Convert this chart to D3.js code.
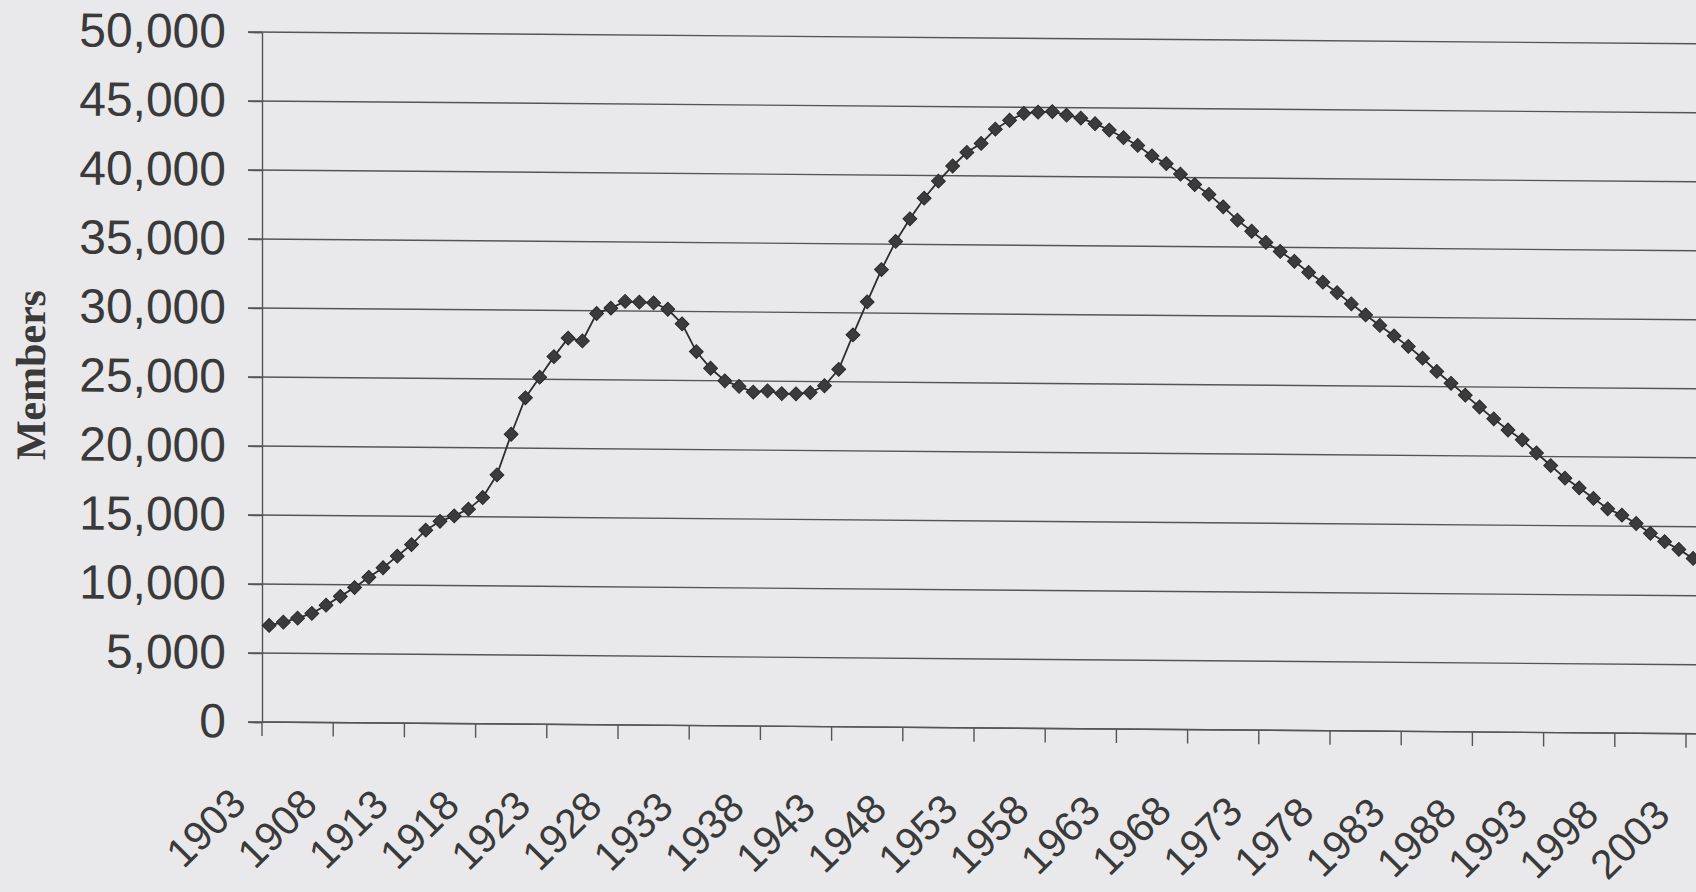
<!DOCTYPE html>
<html>
<head>
<meta charset="utf-8">
<script src="https://cdn.jsdelivr.net/npm/d3@7"></script>
<style>
  html, body { margin: 0; padding: 0; background: #e9e9eb; }
  svg { display: block; }
</style>
</head>
<body>
<div id="chart"></div>
<script>
// categories (one per year)
var years = [
  1903, 1904, 1905, 1906, 1907, 1908, 1909, 1910, 1911, 1912,
  1913, 1914, 1915, 1916, 1917, 1918, 1919, 1920, 1921, 1922,
  1923, 1924, 1925, 1926, 1927, 1928, 1929, 1930, 1931, 1932,
  1933, 1934, 1935, 1936, 1937, 1938, 1939, 1940, 1941, 1942,
  1943, 1944, 1945, 1946, 1947, 1948, 1949, 1950, 1951, 1952,
  1953, 1954, 1955, 1956, 1957, 1958, 1959, 1960, 1961, 1962,
  1963, 1964, 1965, 1966, 1967, 1968, 1969, 1970, 1971, 1972,
  1973, 1974, 1975, 1976, 1977, 1978, 1979, 1980, 1981, 1982,
  1983, 1984, 1985, 1986, 1987, 1988, 1989, 1990, 1991, 1992,
  1993, 1994, 1995, 1996, 1997, 1998, 1999, 2000, 2001, 2002,
  2003
];

// members
var members = [
   7000,  7250,  7550,  7900,  8500,  9150,  9800, 10550, 11250, 12100,
  12950, 14000, 14650, 15050, 15550, 16400, 18050, 21000, 23650, 25150,
  26650, 28000, 27800, 29800, 30200, 30700, 30650, 30600, 30150, 29100,
  27100, 25900, 25000, 24600, 24200, 24300, 24100, 24100, 24200, 24700,
  25900, 28400, 30800, 33150, 35200, 36850, 38350, 39600, 40700, 41700,
  42350, 43400, 44050, 44550, 44650, 44700, 44450, 44250, 43850, 43400,
  42850, 42300, 41550, 41000, 40250, 39500, 38800, 37900, 36950, 36150,
  35350, 34700, 34000, 33200, 32500, 31750, 30950, 30150, 29400, 28650,
  27900, 27050, 26100, 25250, 24400, 23550, 22700, 21900, 21200, 20250,
  19350, 18450, 17750, 17000, 16250, 15800, 15200, 14500, 13900, 13350,
  12700
];

var labelYears = [1903, 1908, 1913, 1918, 1923, 1928, 1933, 1938, 1943, 1948,
                  1953, 1958, 1963, 1968, 1973, 1978, 1983, 1988, 1993, 1998, 2003];
var yTicks = [0, 5000, 10000, 15000, 20000, 25000, 30000, 35000, 40000, 45000, 50000];

var W = 1696, H = 892;
var margin = { left: 262, top: 32, bottom: 722 };
var step = 14.24;
var ink = "#3a3a3a";

var svg = d3.select("#chart").append("svg")
  .attr("width", W)
  .attr("height", H);

// the scan is slightly skewed: horizontal lines drop ~11px across the page
var skew = 0.0082;
var g = svg.append("g")
  .attr("transform", "matrix(1," + skew + ",0,1,0," + (-margin.left * skew) + ")");

var x = d3.scaleBand()
  .domain(years)
  .range([margin.left, margin.left + step * years.length])
  .padding(0);

var y = d3.scaleLinear()
  .domain([0, 50000])
  .range([margin.bottom, margin.top]);

var fmt = d3.format(",");

// horizontal gridlines
g.append("g")
  .selectAll("line")
  .data(yTicks)
  .enter()
  .append("line")
  .attr("x1", margin.left - 14)
  .attr("x2", W + 20)
  .attr("y1", function(d) { return y(d); })
  .attr("y2", function(d) { return y(d); })
  .attr("stroke", "#555")
  .attr("stroke-width", 1.4);

// y axis
var yAxis = g.append("g")
  .attr("transform", "translate(" + margin.left + ",0)")
  .call(d3.axisLeft(y).tickValues(yTicks).tickFormat(fmt).tickSize(14).tickPadding(22));
yAxis.select(".domain").attr("stroke", "#555").attr("stroke-width", 1.4);
yAxis.selectAll(".tick line").attr("stroke", "#555").attr("stroke-width", 1.4);
yAxis.selectAll(".tick text")
  .attr("fill", ink)
  .style("font-family", "'Liberation Sans', Arial, sans-serif")
  .style("font-size", "48px");

// x axis: ticks on category boundaries every 5 years
var xAxis = g.append("g")
  .attr("transform", "translate(0," + margin.bottom + ")");
xAxis.append("line")
  .attr("x1", margin.left)
  .attr("x2", margin.left + step * years.length)
  .attr("stroke", "#555")
  .attr("stroke-width", 1.4);
xAxis.selectAll(".xtick")
  .data(labelYears)
  .enter()
  .append("line")
  .attr("class", "xtick")
  .attr("x1", function(d) { return x(d); })
  .attr("x2", function(d) { return x(d); })
  .attr("y1", 0)
  .attr("y2", 14)
  .attr("stroke", "#555")
  .attr("stroke-width", 1.4);
xAxis.selectAll(".xlabel")
  .data(labelYears)
  .enter()
  .append("text")
  .attr("class", "xlabel")
  .attr("transform", function(d) {
    var cx = x(d) + x.bandwidth() / 2 - 21;
    return "translate(" + cx + ",84) rotate(-45)";
  })
  .attr("text-anchor", "end")
  .attr("fill", ink)
  .style("font-family", "'Liberation Sans', Arial, sans-serif")
  .style("font-size", "41px")
  .text(function(d) { return d; });

// axis title
g.append("text")
  .attr("transform", "translate(45,377) rotate(-90)")
  .attr("text-anchor", "middle")
  .attr("fill", ink)
  .style("font-family", "'Liberation Serif', 'Times New Roman', serif")
  .style("font-weight", "bold")
  .style("font-size", "42px")
  .text("Members");

// series
var points = years.map(function(yr, i) { return { year: yr, value: members[i] }; });

var line = d3.line()
  .x(function(d) { return x(d.year) + x.bandwidth() / 2; })
  .y(function(d) { return y(d.value); });

g.append("path")
  .datum(points)
  .attr("d", line)
  .attr("fill", "none")
  .attr("stroke", "#2e2e2e")
  .attr("stroke-width", 1.8);

g.append("g")
  .selectAll("path")
  .data(points)
  .enter()
  .append("path")
  .attr("d", d3.symbol().type(d3.symbolSquare).size(96))
  .attr("transform", function(d) {
    return "translate(" + (x(d.year) + x.bandwidth() / 2) + "," + y(d.value) + ") rotate(45)";
  })
  .attr("fill", "#3b3b3b")
  .attr("stroke", "#2a2a2a")
  .attr("stroke-width", 1);
</script>
</body>
</html>
